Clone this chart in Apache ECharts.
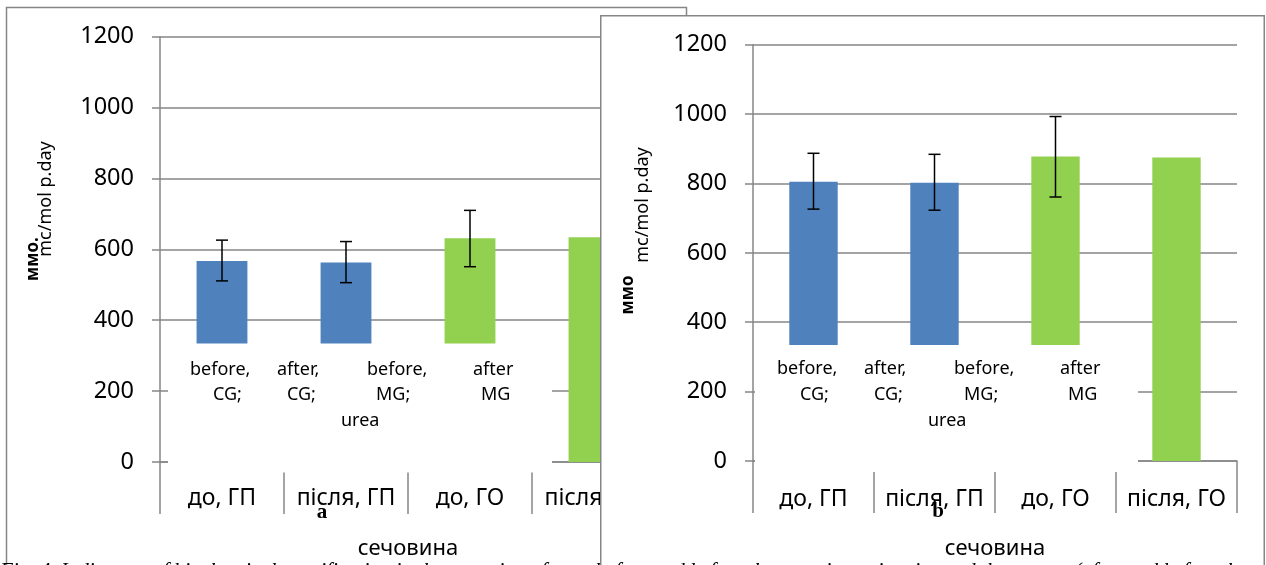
<!DOCTYPE html>
<html><head><meta charset="utf-8">
<script src="https://cdn.jsdelivr.net/npm/echarts@6/dist/echarts.min.js"></script>
<style>
html,body{margin:0;padding:0;width:1266px;height:565px;overflow:hidden;background:#fff}
#a{position:absolute;left:0;top:0;width:1266px;height:565px}
#b{position:absolute;left:600px;top:15px;width:666px;height:550px;background:#fff}
#c{position:absolute;left:0;top:0;width:1266px;height:565px}
</style></head><body>
<div id="a"></div><div id="b"></div><div id="c"></div>
<script>
// ---- data ----
var categories = ['до, ГП', 'після, ГП', 'до, ГО', 'після, ГО'];
var yTicks = [0, 200, 400, 600, 800, 1000, 1200];
var colorsByCat = ['#4F81BD', '#4F81BD', '#92D050', '#92D050'];
var valuesA = [567, 563, 631, 634];
var errLowA = [511, 506, 551, null];
var errHighA = [626, 622, 710, null];
var valuesB = [805, 802, 878, 875];
var errLowB = [726, 723, 761, null];
var errHighB = [887, 884, 993, null];
var xAxisName = 'сечовина';
var yTitleBold = 'ммо';
var yTitleUnit = 'mc/mol p.day';
var boxWords = [['before,', 'CG;'], ['after,', 'CG;'], ['before,', 'MG;', 'urea'], ['after', 'MG']];
var caption = 'Fig. 4. Indicators of biochemical stratification in the excretion of urea before and before the experiment in mice and the groups (after and before the experiment in the study groups)';

var FONT = '"Noto Sans", sans-serif';
var GRAY = '#868686';

function errorSeries(lo, hi) {
  var d = [];
  for (var i = 0; i < lo.length; i++) if (lo[i] != null) d.push([i, lo[i], hi[i]]);
  return {
    type: 'custom', z: 5, data: d, encode: {x: 0, y: [1, 2]},
    renderItem: function (p, api) {
      var x = api.value(0), a = api.coord([x, api.value(1)]), b = api.coord([x, api.value(2)]);
      var hw = 6, st = {stroke: '#000', lineWidth: 1.5};
      return {type: 'group', children: [
        {type: 'line', shape: {x1: a[0], y1: a[1], x2: b[0], y2: b[1]}, style: st},
        {type: 'line', shape: {x1: a[0] - hw, y1: a[1], x2: a[0] + hw, y2: a[1]}, style: st},
        {type: 'line', shape: {x1: b[0] - hw, y1: b[1], x2: b[0] + hw, y2: b[1]}, style: st}
      ]};
    }
  };
}

function buildOption(cfg) {
  var g = [];
  g.push({type: 'rect', z: 0, shape: {x: cfg.frame[0], y: cfg.frame[1], width: cfg.frame[2], height: cfg.frame[3]},
    style: {fill: 'none', stroke: GRAY, lineWidth: 1.5}, silent: true});
  g.push({type: 'rect', z: 50, shape: {x: cfg.box[0], y: cfg.box[1], width: cfg.box[2], height: cfg.box[3]},
    style: {fill: '#fff'}, silent: true});
  for (var i = 0; i < boxWords.length; i++) {
    for (var j = 0; j < boxWords[i].length; j++) {
      var pos = cfg.wordPos[i][j];
      g.push({type: 'text', z: 51, x: pos[0], y: pos[1],
        style: {text: boxWords[i][j], font: '18px ' + FONT, fill: '#000', align: 'left', verticalAlign: 'middle'}});
    }
  }
  g.push({type: 'text', z: 51, x: cfg.yUnit[0], y: cfg.yUnit[1], rotation: Math.PI / 2,
    style: {text: yTitleUnit, font: '18px ' + FONT, fill: '#000', align: 'center', verticalAlign: 'middle'}});
  g.push({type: 'text', z: 51, x: cfg.yBold[0], y: cfg.yBold[1], rotation: Math.PI / 2,
    style: {text: yTitleBold + cfg.dot, font: 'bold 17px ' + FONT, fill: '#000', align: 'center', verticalAlign: 'middle'}});
  g.push({type: 'text', z: 60, x: cfg.letter[0], y: cfg.letter[1],
    style: {text: cfg.letter[2], font: 'bold 21px "Liberation Serif", serif', fill: '#000', align: 'center', verticalAlign: 'middle'}});

  return {
    animation: false,
    grid: {left: cfg.grid[0], top: cfg.grid[1], width: cfg.grid[2], height: cfg.grid[3], containLabel: false},
    xAxis: {
      type: 'category', data: categories,
      axisLine: {show: true, lineStyle: {color: GRAY, width: 1.5}},
      axisTick: {show: true, length: 52, interval: 0, alignWithLabel: false, lineStyle: {color: GRAY, width: 1.5}},
      axisLabel: {interval: 0, margin: cfg.labelMargin, color: '#000', fontSize: 23, fontFamily: FONT, verticalAlign: 'middle'},
      name: xAxisName, nameLocation: 'middle', nameGap: cfg.nameGap,
      nameTextStyle: {color: '#000', fontSize: 22, fontFamily: FONT}
    },
    yAxis: {
      type: 'value', min: 0, max: 1200, interval: 200,
      axisLine: {show: true, lineStyle: {color: GRAY, width: 1.5}},
      axisTick: {show: true, length: 8, lineStyle: {color: GRAY, width: 1.5}},
      axisLabel: {margin: 26, color: '#000', fontSize: 23.5, fontFamily: FONT,
        formatter: function (v) { return String(v); }},
      splitLine: {show: true, lineStyle: {color: GRAY, width: 1.5}}
    },
    series: [
      {type: 'bar', z: 2, barWidth: cfg.barWidth,
        data: cfg.values.map(function (v, i) { return {value: v, itemStyle: {color: colorsByCat[i]}}; })},
      errorSeries(cfg.lo, cfg.hi)
    ],
    graphic: {elements: g}
  };
}

var chartA = echarts.init(document.getElementById('a'));
chartA.setOption(buildOption({
  frame: [6.5, 7.5, 680, 620],
  grid: [160, 36.7, 496, 428],
  box: [168, 343.5, 384, 129],
  values: valuesA, lo: errLowA, hi: errHighA, barWidth: '41%',
  labelMargin: 36, nameGap: 76,
  wordPos: [[[190, 370], [213, 395]], [[277, 370], [287, 395]], [[367, 370], [376, 395], [341, 421]], [[473, 370], [481, 395]]],
  yUnit: [46, 199], yBold: [33, 259], dot: '.',
  letter: [322, 513, 'a']
}));

var chartB = echarts.init(document.getElementById('b'));
chartB.setOption(buildOption({
  frame: [0.75, 0.75, 663.5, 620],
  grid: [153, 29.7, 484, 418.3],
  box: [155, 330, 383, 127],
  values: valuesB, lo: errLowB, hi: errHighB, barWidth: '40%',
  labelMargin: 38, nameGap: 77,
  wordPos: [[[177, 354], [200, 380]], [[264, 354], [274, 380]], [[354, 354], [364, 380], [328, 406]], [[460, 354], [468, 380]]],
  yUnit: [43, 190], yBold: [28, 280], dot: '',
  letter: [338, 497, 'b']
}));

var chartC = echarts.init(document.getElementById('c'));
chartC.setOption({
  animation: false,
  graphic: {elements: [{type: 'text', x: 0, y: 561, style: {text: caption, font: 'italic 21px "Liberation Serif", serif', fill: '#000', align: 'left', verticalAlign: 'top'}}]}
});
</script>
</body></html>
